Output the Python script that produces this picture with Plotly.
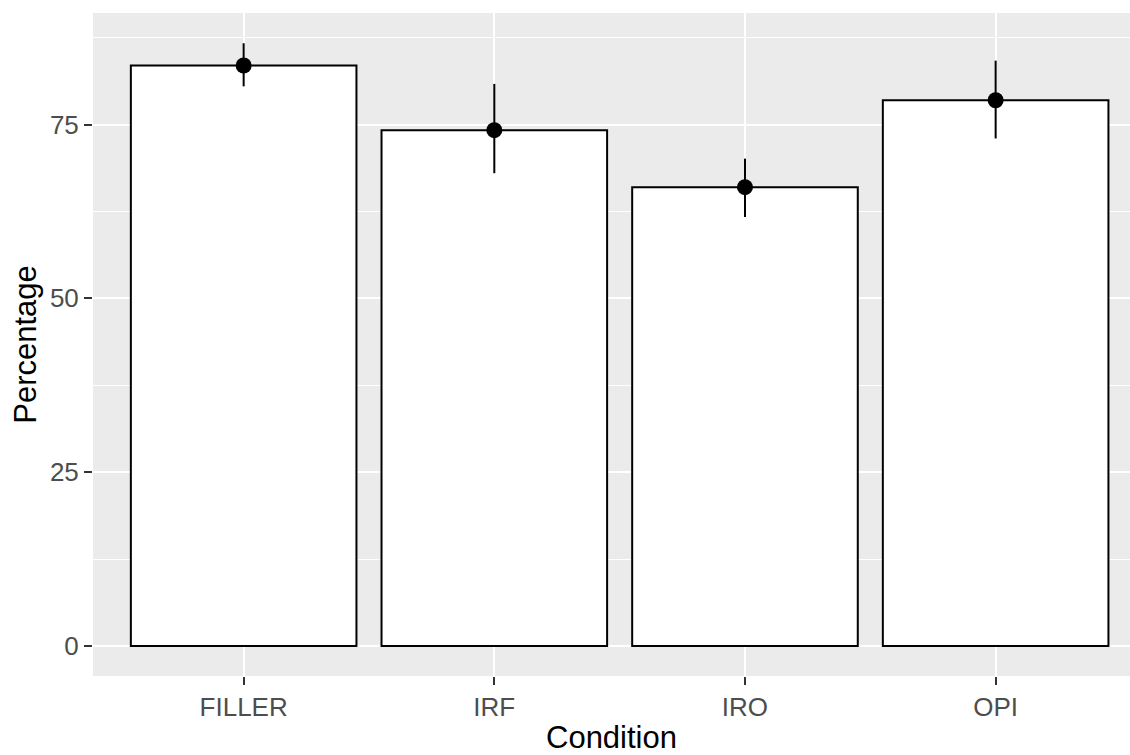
import plotly.graph_objects as go

conditions = ["FILLER", "IRF", "IRO", "OPI"]
percentage = [83.5, 74.2, 66.0, 78.5]
lower = [80.5, 68.0, 61.7, 73.0]
upper = [86.7, 80.85, 70.1, 84.2]

err_plus = [u - m for u, m in zip(upper, percentage)]
err_minus = [m - l for m, l in zip(percentage, lower)]

fig = go.Figure()
fig.add_trace(go.Bar(
    x=conditions, y=percentage, width=0.9,
    marker=dict(color="white", line=dict(color="black", width=2)),
    showlegend=False, hoverinfo="skip",
))
fig.add_trace(go.Scatter(
    x=conditions, y=percentage, mode="markers",
    marker=dict(color="black", size=16),
    error_y=dict(type="data", symmetric=False, array=err_plus, arrayminus=err_minus,
                 color="black", thickness=2, width=0),
    showlegend=False,
))

fig.update_layout(
    width=1130, height=755,
    margin=dict(l=93, r=0, t=13, b=79, autoexpand=False),
    paper_bgcolor="white", plot_bgcolor="#EBEBEB",
    font=dict(family="Liberation Sans, Arial, sans-serif"),
    xaxis=dict(
        type="category", range=[-0.601, 3.536], automargin=False,
        showgrid=True, gridcolor="white", gridwidth=2,
        ticks="outside", ticklen=8, tickwidth=1.5, tickcolor="#333333",
        tickfont=dict(size=26, color="#4D4D4D"),
        title=dict(text="Condition", font=dict(size=31, color="black"), standoff=11),
        zeroline=False, showline=False,
    ),
    yaxis=dict(
        range=[-4.33, 91.05], tickvals=[0, 25, 50, 75], automargin=False,
        showgrid=True, gridcolor="white", gridwidth=2,
        minor=dict(dtick=12.5, tick0=0, showgrid=True, gridcolor="white", gridwidth=1, ticks=""),
        ticks="outside", ticklen=8, tickwidth=1.5, tickcolor="#333333",
        tickfont=dict(size=26, color="#4D4D4D"),
        title=dict(text="Percentage", font=dict(size=31, color="black"), standoff=4),
        zeroline=False, showline=False,
    ),
)

fig.write_html(
    "out.html",
    config={"displayModeBar": False},
    post_script="document.body.style.margin='0';document.body.style.overflow='hidden';",
)
